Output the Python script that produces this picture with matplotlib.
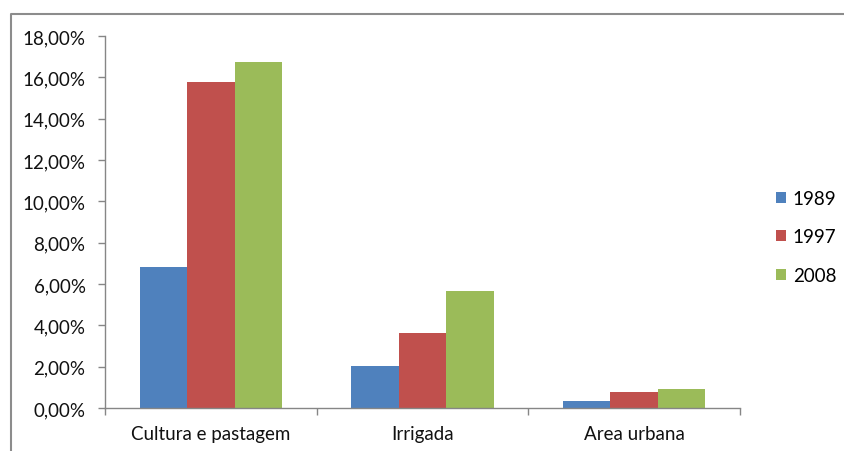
import numpy as np
import matplotlib
matplotlib.use("Agg")
import matplotlib.pyplot as plt
from matplotlib.lines import Line2D
from matplotlib.ticker import FuncFormatter, FixedLocator

# data
categories = ["Cultura e pastagem", "Irrigada", "Area urbana"]
years = ["1989", "1997", "2008"]
v1989 = [6.84, 2.05, 0.32]
v1997 = [15.76, 3.64, 0.77]
v2008 = [16.73, 5.66, 0.93]
colors = ["#4F81BD", "#C0504D", "#9BBB59"]

plt.rcParams['font.family'] = ['Lato', 'DejaVu Sans']
fs = 13.5

fig = plt.figure(figsize=(8.45, 4.52), dpi=100)
ax = fig.add_axes([105 / 845, 43 / 452, 635 / 845, 372 / 452])

x = np.arange(len(categories))
w = 0.224
for i, (vals, lab, c) in enumerate(zip([v1989, v1997, v2008], years, colors)):
    ax.bar(x + (i - 1) * w, vals, width=w, color=c, label=lab, linewidth=0)

ax.set_xlim(-0.5, len(categories) - 0.5)
ax.set_ylim(0, 18)
ax.set_yticks(np.arange(0, 18.1, 2))
ax.yaxis.set_major_formatter(FuncFormatter(lambda v, p: f"{v:.2f}%".replace(".", ",")))
ax.set_xticks(x)
ax.set_xticklabels(categories)
ax.xaxis.set_minor_locator(FixedLocator([-0.5, 0.5, 1.5, 2.5]))
ax.tick_params(axis='x', which='major', length=0, pad=12, labelsize=fs, colors='#111111')
ax.tick_params(axis='x', which='minor', length=5, color='#868686', width=1)
ax.tick_params(axis='y', length=5, color='#868686', width=1, labelsize=fs, pad=9,
               labelcolor='#111111')

for s in ['top', 'right']:
    ax.spines[s].set_visible(False)
for s in ['left', 'bottom']:
    ax.spines[s].set_color('#868686')
    ax.spines[s].set_linewidth(1)

ax.legend(loc='center left', bbox_to_anchor=(1.03, 0.46), frameon=False,
          fontsize=fs, handlelength=0.55, handleheight=0.55, handletextpad=0.35,
          labelspacing=1.15)

# outer frame of the chart area
bx = 11 / 845
by = 1 - 15 / 452
fig.add_artist(Line2D([bx, bx, 1], [0, by, by], transform=fig.transFigure,
                      color='#8c8c8c', linewidth=1.5))

fig.savefig("out.png", dpi=100)
